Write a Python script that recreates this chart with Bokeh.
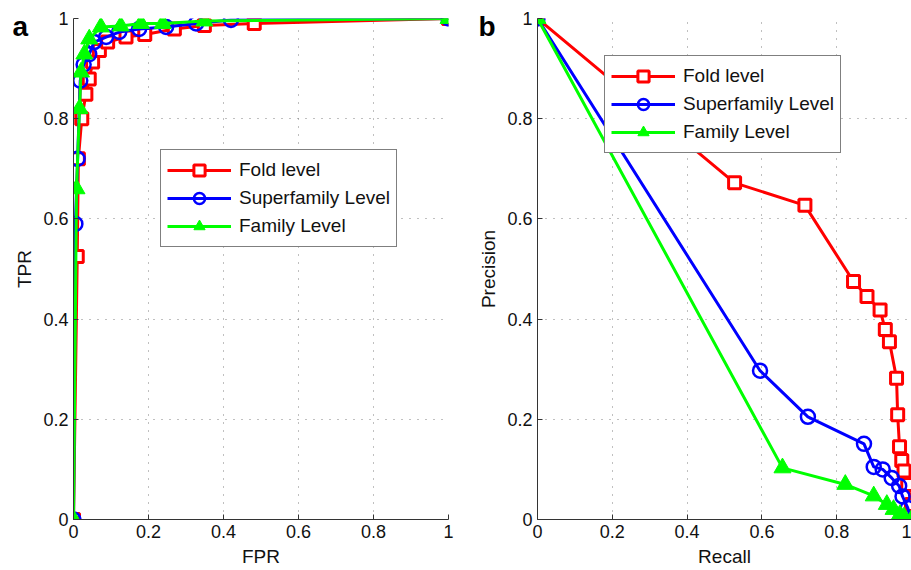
from bokeh.plotting import figure
from bokeh.layouts import row
from bokeh.models import FixedTicker, Legend, LegendItem, Title
from bokeh.embed import file_html
from bokeh.resources import INLINE

# ---- Panel a: ROC ----
fold_fpr = [0, 0.01, 0.013, 0.022, 0.033, 0.042, 0.051, 0.069, 0.091, 0.14, 0.19, 0.269, 0.349, 0.482, 1.0]
fold_tpr = [0, 0.525, 0.72, 0.80, 0.849, 0.879, 0.913, 0.936, 0.953, 0.963, 0.968, 0.979, 0.986, 0.99, 1.0]
sfam_fpr = [0, 0.005, 0.011, 0.018, 0.027, 0.042, 0.055, 0.087, 0.122, 0.175, 0.247, 0.327, 0.42, 1.0]
sfam_tpr = [0, 0.59, 0.72, 0.876, 0.908, 0.929, 0.953, 0.963, 0.973, 0.979, 0.983, 0.99, 0.997, 1.0]
fam_fpr = [0, 0.008, 0.016, 0.02, 0.029, 0.042, 0.073, 0.126, 0.18, 0.238, 0.349, 1.0]
fam_tpr = [0, 0.66, 0.82, 0.893, 0.929, 0.959, 0.983, 0.985, 0.99, 0.99, 0.995, 1.0]

# ---- Panel b: Precision-Recall ----
fold_rec = [0, 0.527, 0.715, 0.845, 0.881, 0.916, 0.930, 0.941, 0.96, 0.963, 0.968, 0.974, 0.98, 0.99, 1.0]
fold_prec = [1.0, 0.672, 0.627, 0.475, 0.445, 0.418, 0.379, 0.355, 0.282, 0.209, 0.145, 0.118, 0.097, 0.07, 0.03]
sfam_rec = [0, 0.595, 0.723, 0.873, 0.899, 0.923, 0.947, 0.967, 0.976, 0.99, 1.0]
sfam_prec = [1.0, 0.297, 0.205, 0.151, 0.105, 0.10, 0.083, 0.067, 0.046, 0.023, 0.0]
fam_rec = [0, 0.655, 0.823, 0.899, 0.934, 0.952, 0.969, 0.98, 1.0]
fam_prec = [1.0, 0.103, 0.07, 0.047, 0.03, 0.02, 0.01, 0.005, 0.0]

series_names = ["Fold level", "Superfamily Level", "Family Level"]
panel_letters = ["a", "b"]
ticks = [0, 0.2, 0.4, 0.6, 0.8, 1.0]
tick_overrides = {0: "0", 1: "1"}

RED, BLUE, GREEN = "#FF0000", "#0000FF", "#00FF00"
FONT = "Liberation Sans"


def make_fig(width, min_left, min_right, xlabel, ylabel, letter, letter_offset):
    t = Title(text=letter, align="left", vertical_align="bottom",
              text_font=FONT, text_font_size="28px", text_font_style="bold",
              text_color="black", offset=letter_offset)
    try:
        t.standoff = -46
    except Exception:
        t.standoff = 0
    p = figure(width=width, height=570, x_range=(0, 1), y_range=(0, 1),
               output_backend="svg", toolbar_location=None, title=t,
               min_border_left=min_left, min_border_right=min_right,
               min_border_top=18, min_border_bottom=51)
    p.outline_line_color = None
    for ax in (p.xaxis, p.yaxis):
        ax.ticker = FixedTicker(ticks=ticks)
        ax.major_label_overrides = tick_overrides
        ax.major_tick_in = 5
        ax.major_tick_out = 0
        ax.minor_tick_line_color = None
        ax.axis_line_color = "#333333"
        ax.major_tick_line_color = "#333333"
        ax.major_label_text_font = FONT
        ax.major_label_text_font_size = "18px"
        ax.major_label_text_color = "#111111"
        ax.axis_label_text_font = FONT
        ax.axis_label_text_font_size = "19px"
        ax.axis_label_text_font_style = "normal"
        ax.axis_label_text_color = "#111111"
    p.xaxis.major_label_standoff = 5
    p.xaxis.axis_label_standoff = 5
    p.yaxis.major_label_standoff = 5
    p.yaxis.axis_label_standoff = 5
    p.xaxis.axis_label = xlabel
    p.yaxis.axis_label = ylabel
    for g in (p.xgrid, p.ygrid):
        g.ticker = FixedTicker(ticks=ticks)
        g.grid_line_color = "#808080"
        g.grid_line_dash = "1 7"
        g.grid_line_width = 1
    return p


def add_series(p, xs_list, ys_list):
    items = []
    colors = [RED, BLUE, GREEN]
    for i, (xs, ys) in enumerate(zip(xs_list, ys_list)):
        c = colors[i]
        ln = p.line(xs, ys, line_color=c, line_width=3)
        if i == 0:
            mk = p.scatter(xs, ys, marker="square", size=12, line_color=c,
                           fill_color="white", line_width=3)
        elif i == 1:
            mk = p.scatter(xs, ys, marker="circle", size=14, line_color=c,
                           fill_color=None, line_width=2.5)
        else:
            mk = p.scatter(xs, ys, marker="triangle", size=17, line_color=c,
                           fill_color=c, line_width=1)
        items.append(LegendItem(label=series_names[i], renderers=[ln, mk]))
    return items


def add_legend(p, items, loc):
    leg = Legend(items=items, location=loc)
    leg.label_text_font = FONT
    leg.label_text_font_size = "19px"
    leg.label_text_color = "#111111"
    leg.border_line_color = "black"
    leg.border_line_width = 1
    leg.background_fill_color = "white"
    leg.background_fill_alpha = 1
    leg.glyph_width = 64
    leg.glyph_height = 28
    leg.label_height = 28
    leg.spacing = 0
    leg.padding = 6
    leg.margin = 0
    leg.label_standoff = 8
    p.add_layout(leg, "center")


# Panel a
pa = make_fig(475, 73, 27, "FPR", "TPR", panel_letters[0], -61)
items_a = add_series(pa, [fold_fpr, sfam_fpr, fam_fpr], [fold_tpr, sfam_tpr, fam_tpr])
add_legend(pa, items_a, (87, 272))

# Panel b
pb = make_fig(436, 60, 0, "Recall", "Precision", panel_letters[1], -59)
items_b = add_series(pb, [fold_rec, sfam_rec, fam_rec], [fold_prec, sfam_prec, fam_prec])
add_legend(pb, items_b, (67, 366))

layout = row(pa, pb)
open("out.html", "w").write(file_html(layout, INLINE))
